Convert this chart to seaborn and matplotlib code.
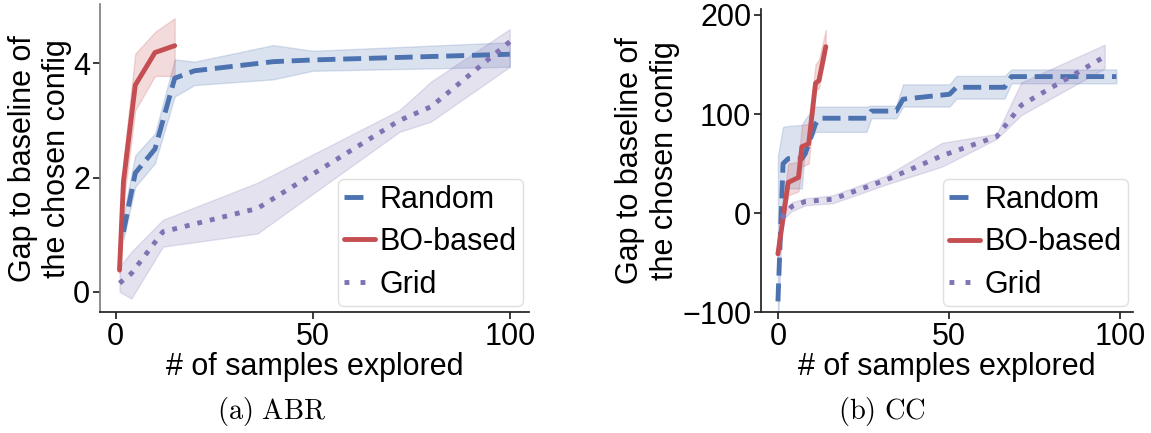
import matplotlib
matplotlib.use("Agg")
import matplotlib.pyplot as plt
import seaborn as sns
import numpy as np

# ---------------- data: (a) ABR ----------------
abr_random_x = [2, 5, 10, 15, 20, 40, 50, 100]
abr_random_y = [1.05, 2.08, 2.50, 3.74, 3.87, 4.03, 4.06, 4.16]
abr_random_lo = [0.92, 1.84, 2.25, 3.42, 3.62, 3.72, 3.87, 3.94]
abr_random_hi = [1.35, 2.39, 2.77, 4.07, 4.03, 4.32, 4.22, 4.37]

abr_bo_x = [1, 2, 5, 10, 15]
abr_bo_y = [0.38, 1.93, 3.62, 4.19, 4.31]
abr_bo_lo = [0.33, 1.55, 3.18, 3.78, 3.78]
abr_bo_hi = [0.45, 2.30, 4.17, 4.55, 4.79]

abr_grid_x = [1, 4, 12, 36, 72, 80, 100]
abr_grid_y = [0.15, 0.32, 1.05, 1.46, 3.00, 3.24, 4.38]
abr_grid_lo = [0.00, -0.12, 0.79, 1.02, 2.80, 2.98, 3.94]
abr_grid_hi = [0.44, 0.70, 1.26, 1.91, 3.18, 3.68, 4.60]

# ---------------- data: (b) CC ----------------
cc_random_x = [0, 1.5, 3, 7, 8, 11, 12.2, 25.9, 27.3, 34.6, 36.6, 50.2, 52.2, 66.3, 68.3, 99]
cc_random_y = [-89, 50, 55, 55, 60, 90, 95.8, 95.8, 103, 103, 115, 120, 127, 127, 137.8, 137.8]
cc_random_lo = [-115, 25, 25, 25, 70, 82, 82, 82, 95.8, 95.8, 107.5, 107.5, 115.6, 115.6, 131, 131]
cc_random_hi = [58, 87, 88, 89, 95, 107.5, 107.5, 107.5, 108.5, 108.5, 130, 130, 138.5, 138.5, 145, 145]

cc_bo_x = [0, 3, 6, 7, 9, 11, 12, 14]
cc_bo_y = [-41, 31, 36, 67, 70, 131, 134, 168]
cc_bo_lo = [-45, 18, 22, 47, 50, 124, 126, 161]
cc_bo_hi = [-37, 50, 52, 89, 90, 150, 155, 185]

cc_grid_x = [1, 4, 8, 16, 31.7, 48, 64, 71.2, 95.6]
cc_grid_y = [-5, 6.7, 11.7, 14.1, 33.6, 58, 77.3, 109, 158]
cc_grid_lo = [-8, 2, 8, 10, 29, 47, 75, 99, 146]
cc_grid_hi = [-2, 11, 15, 18, 38, 71, 80, 132, 170]

labels = ["Random", "BO-based", "Grid"]
captions = [r"$\mathrm{(a)\ ABR}$", r"$\mathrm{(b)\ CC}$"]

# ---------------- style ----------------
sns.set_theme(style="ticks")
plt.rcParams["font.family"] = ["Liberation Sans", "DejaVu Sans"]
plt.rcParams["mathtext.fontset"] = "cm"
plt.rcParams["text.color"] = "black"
plt.rcParams["axes.labelcolor"] = "black"
FS = 22
colors = {"Random": "#4C72B0", "BO-based": "#C44E52", "Grid": "#8172B3"}
styles = {"Random": "--", "BO-based": "-", "Grid": ":"}
legend_styles = {"Random": (0, (3.9, 10)), "BO-based": "-", "Grid": (0.0, (1, 2.3))}

W, H = 1151, 433
fig = plt.figure(figsize=(W / 100, H / 100), dpi=100)

def px_axes(l, t, r, b):
    return fig.add_axes([l / W, 1 - b / H, (r - l) / W, (b - t) / H])

ax1 = px_axes(100, 4, 529.3, 312.3)
ax2 = px_axes(761, 9, 1133.3, 312.3)

panels = [
    (ax1, [
        ("Random", abr_random_x, abr_random_y, abr_random_lo, abr_random_hi),
        ("BO-based", abr_bo_x, abr_bo_y, abr_bo_lo, abr_bo_hi),
        ("Grid", abr_grid_x, abr_grid_y, abr_grid_lo, abr_grid_hi),
    ]),
    (ax2, [
        ("Random", cc_random_x, cc_random_y, cc_random_lo, cc_random_hi),
        ("BO-based", cc_bo_x, cc_bo_y, cc_bo_lo, cc_bo_hi),
        ("Grid", cc_grid_x, cc_grid_y, cc_grid_lo, cc_grid_hi),
    ]),
]

for ax, series in panels:
    for name, xs, ys, lo, hi in series:
        c = colors[name]
        ax.fill_between(xs, lo, hi, color=c, alpha=0.2, linewidth=1)
        sns.lineplot(x=xs, y=ys, ax=ax, color=c, linestyle=styles[name],
                     linewidth=3.5, label=name, errorbar=None, sort=False)

ax1.set_xlim(-3.95, 104.95)
ax1.set_ylim(-0.36, 5.04)
ax1.set_xticks([0, 50, 100])
ax1.set_yticks([0, 2, 4])

ax2.set_xlim(-4.95, 103.95)
ax2.set_ylim(-100, 206)
ax2.set_xticks([0, 50, 100])
ax2.set_yticks([-100, 0, 100, 200])

label_x = [(40 - 100) / 429.3, (647.5 - 761) / 372.3]
for i, ax in enumerate([ax1, ax2]):
    sns.despine(ax=ax)
    for sp in ["left", "bottom"]:
        ax.spines[sp].set_linewidth(1.25)
        ax.spines[sp].set_color("#222222")
    ax.tick_params(axis="both", labelsize=FS, length=5, width=1.25,
                   color="#222222", labelcolor="black", pad=2)
    ax.set_xlabel("# of samples explored", fontsize=FS, va="center", color="black")
    ax.xaxis.set_label_coords(0.5, (312.3 - 367) / (ax.bbox.height))
    ax.set_ylabel("Gap to baseline of\nthe chosen config", fontsize=FS, color="black",
                  va="center", ha="center", multialignment="center")
    ax.yaxis.set_label_coords(label_x[i], 0.5)
    leg = ax.legend(loc="lower right", bbox_to_anchor=(0.985, 0.021),
                    borderaxespad=0, fontsize=FS, handlelength=1.0,
                    handletextpad=0.15, borderpad=0.2, labelspacing=0.41,
                    frameon=True, fancybox=True, labelcolor="black")
    leg.get_frame().set_edgecolor("#d8d8d8")
    leg.get_frame().set_linewidth(1.0)
    for h, t in zip(leg.get_lines(), leg.get_texts()):
        h.set_linestyle(legend_styles[t.get_text()])

ax1.spines["left"].set_color("#808080")

fig.text(271.5 / W, 1 - 412 / H, captions[0], fontsize=20.5, ha="center", va="center", color="black")
fig.text(881.5 / W, 1 - 412 / H, captions[1], fontsize=20.5, ha="center", va="center", color="black")

fig.savefig("out.png", dpi=100)
